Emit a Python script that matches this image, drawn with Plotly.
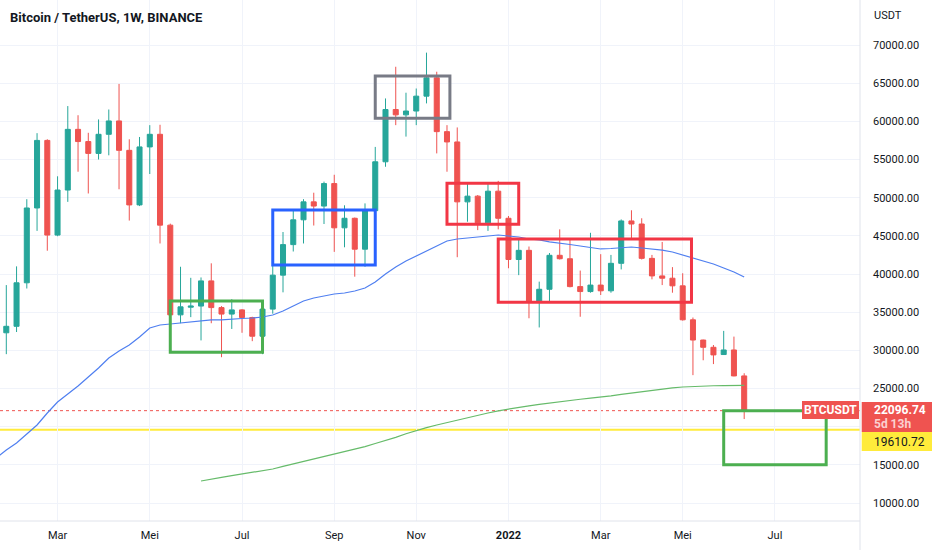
import pandas as pd
import plotly.graph_objects as go

# ---------------- data ----------------
start_week = "2021-01-25"
n_weeks = 73
weeks = pd.date_range(start_week, periods=n_weeks, freq="7D")

opens = [32300, 33150, 38850, 48650, 57500, 45100, 51000, 58950, 57350, 55800,
         58300, 60050, 56200, 49050, 56650, 58300, 46400, 34650, 35650, 35800,
         39100, 35600, 34750, 35300, 34300, 31850, 35400, 39850, 43850, 47100,
         49450, 48900, 51850, 46050, 47300, 43250, 48300, 54700, 61550, 60850,
         61350, 63300, 65700, 58650, 57300, 49450, 50200, 46700, 50850, 47300,
         41900, 43100, 36350, 38000, 42450, 42000, 38350, 37700, 38550, 37800,
         41400, 46950, 46550, 42050, 39750, 39450, 38450, 34000, 31350, 30400,
         29450, 30050, 26650]
highs = [38550, 41000, 49800, 58450, 57650, 52800, 62000, 60800, 58500, 60250,
         61550, 64900, 57650, 57950, 59500, 59550, 46600, 40950, 39500, 39550,
         41400, 35800, 36700, 35400, 34400, 35400, 42700, 45500, 48300, 49800,
         50650, 52100, 53000, 49000, 47400, 49250, 56650, 63000, 67150, 63750,
         64300, 69000, 66500, 59500, 59200, 51900, 50350, 51950, 52200, 47600,
         44700, 43600, 39000, 42750, 45850, 44650, 40450, 45400, 42600, 42500,
         47150, 48350, 47300, 42500, 44200, 40900, 40100, 34300, 31400, 30700,
         32550, 31800, 27000]
lows = [29500, 32400, 38100, 45650, 43050, 44950, 49450, 53400, 50550, 55000,
        55550, 51100, 47000, 48900, 53100, 44000, 30000, 33550, 34350, 31300,
        33550, 29100, 32800, 32300, 31200, 29500, 34800, 37600, 42950, 44000,
        46350, 46550, 42900, 43500, 39650, 40950, 46900, 54050, 59500, 58000,
        59500, 62350, 55800, 53400, 42200, 46850, 45750, 45650, 45850, 40750,
        39850, 34200, 33000, 36350, 41900, 38250, 34400, 37550, 37250, 37550,
        40600, 44450, 41900, 39300, 38550, 37550, 33900, 26750, 28700, 28200,
        29450, 26600, 21000]
closes = [33150, 38850, 48650, 57500, 45100, 51000, 58950, 57350, 55800, 58300,
          60050, 56200, 49050, 56650, 58300, 46400, 34650, 35700, 35800, 39100,
          35600, 34750, 35300, 34300, 31850, 35400, 39850, 43850, 47100, 49450,
          48900, 51850, 46050, 47300, 43250, 48300, 54700, 61550, 60850, 61350,
          63300, 65700, 58650, 57300, 49450, 50200, 46700, 50850, 47300, 41900,
          43100, 36350, 38000, 42450, 42000, 38350, 37700, 38550, 37800, 41400,
          46950, 46550, 42050, 39750, 39450, 38450, 34000, 31350, 30400, 29400,
          30050, 26650, 22096.74]

# blue moving average (from the week before the first candle)
ma_blue_dates = pd.date_range("2021-01-18", periods=74, freq="7D")
ma_blue = [15900, 16950, 17860, 19040, 20220, 21790, 23230, 24280, 25330, 26510,
           27690, 29000, 29910, 30700, 31750, 32930, 33320, 33450, 33580, 33710,
           33840, 33980, 33980, 34110, 34170, 34240, 34370, 34630, 35150, 35810,
           36460, 36860, 37120, 37380, 37510, 37770, 38170, 38950, 40000, 40920,
           41700, 42360, 43010, 43670, 44320, 44590, 44720, 44850, 44980, 45110,
           44980, 44850, 44590, 44460, 44200, 44060, 43870, 43670, 43470, 43280,
           43340, 43470, 43540, 43410, 43280, 43140, 42880, 42490, 42090, 41700,
           41310, 40790, 40260, 39610]

# green moving average (starts at week of 2021-06-07)
ma_green_dates = pd.date_range("2021-06-07", periods=54, freq="7D")
ma_green = [12880, 13150, 13360, 13580, 13800, 14000, 14220, 14460, 14790, 15110,
            15440, 15770, 16100, 16420, 16720, 17020, 17380, 17800, 18190, 18590,
            19070, 19500, 19880, 20220, 20550, 20850, 21160, 21460, 21790, 22080,
            22320, 22540, 22730, 22930, 23110, 23290, 23430, 23590, 23730, 23860,
            24040, 24230, 24420, 24610, 24800, 24960, 25090, 25200, 25280, 25330,
            25360, 25380, 25390, 25400]

# rectangles drawn on the chart
box_x0 = ["2021-05-17", "2021-07-26", "2021-10-04", "2021-11-22", "2021-12-27", "2022-05-30"]
box_x1 = ["2021-07-19", "2021-10-04", "2021-11-24", "2022-01-10", "2022-05-08", "2022-08-08"]
box_lo = [29750, 41180, 60400, 46510, 36290, 15000]
box_hi = [36460, 48385, 65940, 51880, 44590, 22100]
box_col = ["#4caf50", "#2962ff", "#787b86", "#f23645", "#f23645", "#4caf50"]

last_price = 22096.74
level_price = 19610.72
countdown = "5d 13h"
symbol = "BTCUSDT"
title = "Bitcoin / TetherUS, 1W, BINANCE"

tick_dates = ["2021-03-01", "2021-05-03", "2021-07-05", "2021-09-06", "2021-11-01",
              "2022-01-03", "2022-03-07", "2022-05-02", "2022-07-04"]
tick_text = ["Mar", "Mei", "Jul", "Sep", "Nov", "<b>2022</b>", "Mar", "Mei", "Jul"]

price_ticks = list(range(10000, 75000, 5000))
price_text = ["" if v == 20000 else f"{v:.2f}" for v in price_ticks]

# ---------------- figure ----------------
UP = "#26a69a"
DOWN = "#ef5350"
TXT = "#131722"
GRID = "#f0f3fa"
FONT = "Roboto"

fig = go.Figure()

fig.add_trace(go.Scatter(x=ma_blue_dates, y=ma_blue, mode="lines",
                         line=dict(color="#4f7ff0", width=1.2), hoverinfo="skip"))
fig.add_trace(go.Scatter(x=ma_green_dates, y=ma_green, mode="lines",
                         line=dict(color="#66bb6a", width=1.2), hoverinfo="skip"))

fig.add_trace(go.Candlestick(
    x=weeks, open=opens, high=highs, low=lows, close=closes,
    increasing=dict(line=dict(color=UP, width=1), fillcolor=UP),
    decreasing=dict(line=dict(color=DOWN, width=1), fillcolor=DOWN),
    whiskerwidth=0, hoverinfo="skip"))

shapes = []
# horizontal level lines
shapes.append(dict(type="line", xref="paper", x0=0, x1=1, yref="y", y0=level_price, y1=level_price,
                   line=dict(color="#ffeb3b", width=2), layer="below"))
shapes.append(dict(type="line", xref="paper", x0=0, x1=1, yref="y", y0=last_price, y1=last_price,
                   line=dict(color="#ef5350", width=1, dash="dot"), layer="below"))
for x0, x1, lo, hi, c in zip(box_x0, box_x1, box_lo, box_hi, box_col):
    shapes.append(dict(type="rect", xref="x", yref="y", x0=x0, x1=x1, y0=lo, y1=hi,
                       line=dict(color=c, width=3), fillcolor="rgba(0,0,0,0)", layer="above"))

# frame lines
shapes.append(dict(type="line", xref="paper", yref="paper", x0=1, x1=1, y0=-0.06, y1=1,
                   line=dict(color="#e0e3eb", width=1)))
shapes.append(dict(type="line", xref="paper", yref="paper", x0=0, x1=1, y0=0, y1=0,
                   line=dict(color="#e0e3eb", width=1)))

# price-axis labels
shapes.append(dict(type="rect", xref="paper", yref="paper", x0=1.002, x1=1.09,
                   y0=(521 - 432) / 521, y1=(521 - 402) / 521,
                   fillcolor="#ef5350", line=dict(width=0)))
shapes.append(dict(type="rect", xref="paper", yref="paper", x0=1.002, x1=1.09,
                   y0=(521 - 451) / 521, y1=(521 - 432) / 521,
                   fillcolor="#ffeb3b", line=dict(width=0)))
# symbol label
shapes.append(dict(type="rect", xref="paper", yref="paper", x0=802 / 860, x1=859 / 860,
                   y0=(521 - 419) / 521, y1=(521 - 401) / 521,
                   fillcolor="#ef5350", line=dict(width=0)))

annotations = [
    dict(text=f"<b>{title}</b>", xref="paper", yref="paper", x=8 / 860, y=(521 - 17) / 521,
         xanchor="left", yanchor="middle", showarrow=False,
         font=dict(family=FONT, size=13, color=TXT)),
    dict(text="USDT", xref="paper", yref="paper", x=1 + 12 / 860, y=(521 - 15) / 521,
         xanchor="left", yanchor="middle", showarrow=False,
         font=dict(family=FONT, size=11, color=TXT)),
    dict(text=f"<b>{last_price:.2f}</b>", xref="paper", yref="paper", x=1 + 12 / 860, y=(521 - 410) / 521,
         xanchor="left", yanchor="middle", showarrow=False,
         font=dict(family=FONT, size=12, color="white")),
    dict(text=f"<b>{countdown}</b>", xref="paper", yref="paper", x=1 + 12 / 860, y=(521 - 424) / 521,
         xanchor="left", yanchor="middle", showarrow=False,
         font=dict(family=FONT, size=12, color="#fbd0d0")),
    dict(text=f"{level_price:.2f}", xref="paper", yref="paper", x=1 + 12 / 860, y=(521 - 441.5) / 521,
         xanchor="left", yanchor="middle", showarrow=False,
         font=dict(family=FONT, size=12, color=TXT)),
    dict(text=f"<b>{symbol}</b>", xref="paper", yref="paper", x=830.5 / 860, y=(521 - 410) / 521,
         xanchor="center", yanchor="middle", showarrow=False,
         font=dict(family=FONT, size=12, color="white")),
]

x_left = pd.Timestamp(start_week) - pd.Timedelta(days=0.615 * 7)
x_right = pd.Timestamp(start_week) + pd.Timedelta(days=83.3 * 7)

fig.update_layout(
    width=932, height=550,
    margin=dict(l=0, r=72, t=0, b=29),
    paper_bgcolor="white", plot_bgcolor="white",
    showlegend=False,
    font=dict(family=FONT, color=TXT),
    shapes=shapes, annotations=annotations,
    hovermode=False,
    xaxis=dict(type="date", range=[x_left, x_right], rangeslider=dict(visible=False),
               tickmode="array", tickvals=tick_dates, ticktext=tick_text,
               showgrid=True, gridcolor=GRID, gridwidth=1, zeroline=False,
               showline=False, ticks="", ticklabelstandoff=6,
               tickfont=dict(family=FONT, size=11, color=TXT)),
    yaxis=dict(side="right", range=[7644, 75895],
               tickmode="array", tickvals=price_ticks, ticktext=price_text,
               showgrid=True, gridcolor=GRID, gridwidth=1, zeroline=False,
               showline=False, ticks="", ticklabelstandoff=12,
               tickfont=dict(family=FONT, size=11, color=TXT)),
)

fig.write_html("out.html")
